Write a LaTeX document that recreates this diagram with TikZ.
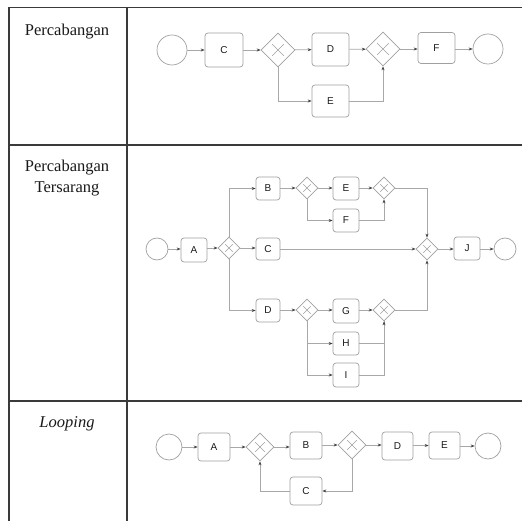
\documentclass[tikz,border=0pt]{standalone}
\usepackage{fontspec}
\setmainfont{Liberation Serif}
\newfontfamily\boxfont{Liberation Sans}
\usetikzlibrary{shapes.geometric,arrows.meta}
\definecolor{tbl}{HTML}{3A3A3A}
\definecolor{lnc}{HTML}{A8A8A8}
\definecolor{bxc}{HTML}{A0A0A0}
\definecolor{tipc}{HTML}{404040}
\tikzset{
  tblline/.style={draw=tbl,line width=1.6pt},
  task/.style={draw=bxc,rounded corners=3pt,line width=0.7pt,inner sep=0pt,text=black!90,font=\boxfont},
  evt/.style={draw=bxc,circle,line width=0.7pt,inner sep=0pt},
  gw/.style={draw=bxc,diamond,aspect=1,inner sep=0pt,line width=0.7pt,
    path picture={\draw[bxc,line width=0.5pt]
      ([shift={(-0.17*#1,-0.17*#1)}]path picture bounding box.center) -- ([shift={(0.17*#1,0.17*#1)}]path picture bounding box.center)
      ([shift={(-0.17*#1,0.17*#1)}]path picture bounding box.center) -- ([shift={(0.17*#1,-0.17*#1)}]path picture bounding box.center);},
    minimum width=#1, minimum height=#1},
  flow/.style={draw=lnc,line width=0.7pt,-{Stealth[length=4pt,width=3pt,color=tipc]}},
  line/.style={draw=lnc,line width=0.7pt},
  lbl/.style={font=\fontsize{16.5}{21}\selectfont,align=center,text=black!90}
}
\begin{document}
\begin{tikzpicture}[x=1pt,y=-1pt]
\useasboundingbox (0,0) rectangle (522,521);
% table
\draw[tblline] (9,7.5) -- (522,7.5);
\draw[tblline] (9,145) -- (522,145);
\draw[tblline] (9,401) -- (522,401);
\draw[tblline] (9,7.5) -- (9,521);
\draw[tblline] (127,7.5) -- (127,521);
\node[lbl] (t1) at (67,32) {Percabangan};
\node[lbl] (t2) at (67,178.5) {Percabangan\\Tersarang};
\node[lbl,font=\fontsize{16.5}{21}\selectfont\itshape] (t3) at (67,424) {Looping};
% row 1
\begin{scope}[every node/.append style={font=\boxfont\fontsize{13}{13}\selectfont}]
\node[evt,minimum size=30] (s1) at (172,50) {};
\node[task,minimum width=38,minimum height=34] (c1) at (224,50) {C};
\node[gw=34] (g11) at (278,50) {};
\node[task,minimum width=37,minimum height=33] (d1) at (330.5,49.5) {D};
\node[gw=34] (g12) at (383,49) {};
\node[task,minimum width=37,minimum height=31] (f1) at (436.5,48) {F};
\node[evt,minimum size=30] (e1) at (488,49) {};
\node[task,minimum width=37,minimum height=32] (ee1) at (330.5,101) {E};
\end{scope}
\draw[flow] (s1) -- (c1);
\draw[flow] (c1) -- (g11);
\draw[flow] (g11) -- (d1);
\draw[flow] (d1) -- (g12);
\draw[flow] (g12) -- (f1.west|-g12);
\draw[flow] (f1.east|-e1) -- (e1);
\draw[flow] (g11.south) |- (ee1.west);
\draw[flow] (ee1.east) -| (g12.south);
% row 2
\begin{scope}[every node/.append style={font=\boxfont\fontsize{9}{9}\selectfont}]
\node[evt,minimum size=22] (s2) at (157,249) {};
\node[task,minimum width=26,minimum height=24] (a2) at (194,250) {A};
\node[gw=22] (ga2) at (229,248) {};
\node[task,minimum width=24,minimum height=23] (b2) at (268,188.5) {B};
\node[task,minimum width=24,minimum height=22] (c2) at (268,249) {C};
\node[task,minimum width=24,minimum height=23] (d2) at (268,310.5) {D};
\node[gw=22] (gb2) at (307,188) {};
\node[task,minimum width=26,minimum height=23] (e2) at (346,188.5) {E};
\node[task,minimum width=26,minimum height=23] (f2) at (346,220.5) {F};
\node[gw=22] (ge2) at (384,188) {};
\node[gw=22] (gm2) at (427,249) {};
\node[task,minimum width=26,minimum height=23] (j2) at (467,248.5) {J};
\node[evt,minimum size=22] (en2) at (505,249) {};
\node[gw=22] (gd2) at (307,310) {};
\node[task,minimum width=26,minimum height=24] (g2) at (346,311) {G};
\node[gw=22] (gg2) at (384,310) {};
\node[task,minimum width=26,minimum height=23] (h2) at (346,343.5) {H};
\node[task,minimum width=26,minimum height=24] (i2) at (346,375) {I};
\end{scope}
\draw[flow] (s2) -- (a2.west|-s2);
\draw[flow] (a2.east|-ga2) -- (ga2);
\draw[flow] (ga2) -- (c2.west|-ga2);
\draw[flow] (ga2.north) |- (b2.west);
\draw[flow] (ga2.south) |- (d2.west);
\draw[flow] (b2.east|-gb2) -- (gb2);
\draw[flow] (gb2) -- (e2.west|-gb2);
\draw[flow] (gb2.south) |- (f2.west);
\draw[flow] (e2.east|-ge2) -- (ge2);
\draw[flow] (f2.east) -| (ge2.south);
\draw[flow] (ge2.east) -| (gm2.north);
\draw[flow] (c2.east|-gm2) -- (gm2);
\draw[flow] (gm2) -- (j2.west|-gm2);
\draw[flow] (j2.east|-en2) -- (en2);
\draw[flow] (d2.east|-gd2) -- (gd2);
\draw[flow] (gd2) -- (g2.west|-gd2);
\draw[flow] (g2.east|-gg2) -- (gg2);
\draw[flow] (gg2.east) -| (gm2.south);
\draw[flow] (gd2.south) |- (h2.west);
\draw[flow] (gd2.south) |- (i2.west);
\draw[line] (h2.east) -| (gg2.south);
\draw[flow] (i2.east) -| (gg2.south);
% row 3
\begin{scope}[every node/.append style={font=\boxfont\fontsize{12}{12}\selectfont}]
\node[evt,minimum size=26] (s3) at (169,447) {};
\node[task,minimum width=32,minimum height=28] (a3) at (214,447) {A};
\node[gw=28] (g13) at (260,447) {};
\node[task,minimum width=32,minimum height=27] (b3) at (306,445.5) {B};
\node[gw=28] (g23) at (352,445) {};
\node[task,minimum width=31,minimum height=28] (d3) at (397.5,446) {D};
\node[task,minimum width=31,minimum height=27] (e3) at (444.5,445.5) {E};
\node[evt,minimum size=26] (en3) at (488,446) {};
\node[task,minimum width=32,minimum height=28] (c3) at (306,491) {C};
\end{scope}
\draw[flow] (s3) -- (a3);
\draw[flow] (a3) -- (g13);
\draw[flow] (g13) -- (b3.west|-g13);
\draw[flow] (b3.east|-g23) -- (g23);
\draw[flow] (g23) -- (d3.west|-g23);
\draw[flow] (d3.east|-e3) -- (e3);
\draw[flow] (e3.east|-en3) -- (en3);
\draw[flow] (g23.south) |- (c3.east);
\draw[flow] (c3.west) -| (g13.south);
\end{tikzpicture}
\end{document}
